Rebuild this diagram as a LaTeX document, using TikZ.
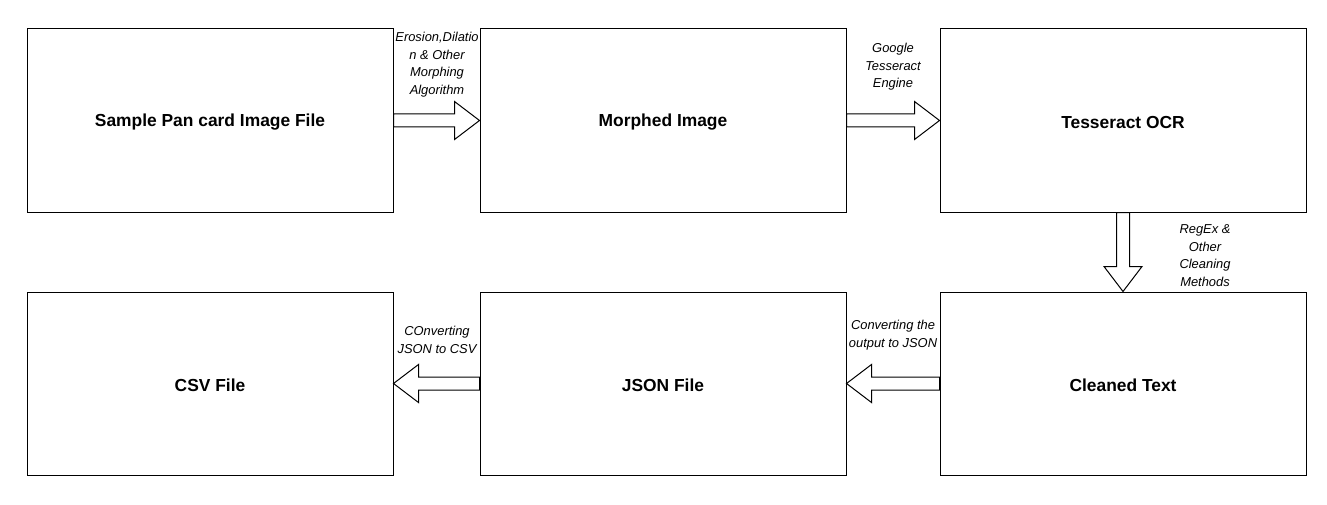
\documentclass[tikz,border=0pt]{standalone}
\usepackage{fontspec}
\setmainfont{Liberation Sans}
\usetikzlibrary{calc}
\begin{document}
\begin{tikzpicture}[x=1pt,y=-1pt,
  box/.style={draw=black,line width=1pt,minimum width=366pt,minimum height=183pt,inner sep=0pt,font=\fontsize{17.4}{20}\selectfont\bfseries},
  txt/.style={inner sep=0pt,font=\fontsize{17.4}{20}\selectfont\bfseries},
  lbl/.style={align=center,inner sep=0pt,font=\fontsize{12.9}{17.5}\selectfont\itshape},
  arr/.style={draw=black,line width=1pt,fill=white,line join=miter}]
\useasboundingbox (0,0) rectangle (1327,505);
\node[box] (img) at (210,120.5) {};
\node[box] (mor) at (663,120.5) {};
\node[box] (ocr) at (1123,120.5) {};
\node[box] (cln) at (1123,383.5) {};
\node[box] (json) at (663,383.5) {};
\node[box] (csv) at (210,383.5) {};
\node[txt] (timg) at ($(img.center)+(0,2)$) {Sample Pan card Image File};
\node[txt] (tmor) at ($(mor.center)+(0,2)$) {Morphed Image};
\node[txt] (tocr) at ($(ocr.center)+(0,2)$) {Tesseract OCR};
\node[txt] (tcln) at ($(cln.center)+(0,2)$) {Cleaned Text};
\node[txt] (tjson) at ($(json.center)+(0,2)$) {JSON File};
\node[txt] (tcsv) at ($(csv.center)+(0,2)$) {CSV File};
% right arrows
\draw[arr] ($(img.east)+(0,-6.5)$) -- ($(mor.west)+(-25,-6.5)$) -- ($(mor.west)+(-25,-19)$) -- (mor.west) -- ($(mor.west)+(-25,19)$) -- ($(mor.west)+(-25,6.5)$) -- ($(img.east)+(0,6.5)$) -- cycle;
\draw[arr] ($(mor.east)+(0,-6.5)$) -- ($(ocr.west)+(-25,-6.5)$) -- ($(ocr.west)+(-25,-19)$) -- (ocr.west) -- ($(ocr.west)+(-25,19)$) -- ($(ocr.west)+(-25,6.5)$) -- ($(mor.east)+(0,6.5)$) -- cycle;
% down arrow
\draw[arr] ($(ocr.south)+(-6.5,0)$) -- ($(cln.north)+(-6.5,-25)$) -- ($(cln.north)+(-19,-25)$) -- (cln.north) -- ($(cln.north)+(19,-25)$) -- ($(cln.north)+(6.5,-25)$) -- ($(ocr.south)+(6.5,0)$) -- cycle;
% left arrows
\draw[arr] ($(cln.west)+(0,-6.5)$) -- ($(json.east)+(25,-6.5)$) -- ($(json.east)+(25,-19)$) -- (json.east) -- ($(json.east)+(25,19)$) -- ($(json.east)+(25,6.5)$) -- ($(cln.west)+(0,6.5)$) -- cycle;
\draw[arr] ($(json.west)+(0,-6.5)$) -- ($(csv.east)+(25,-6.5)$) -- ($(csv.east)+(25,-19)$) -- (csv.east) -- ($(csv.east)+(25,19)$) -- ($(csv.east)+(25,6.5)$) -- ($(json.west)+(0,6.5)$) -- cycle;
% labels
\node[lbl] (l1) at (437,64.5) {Erosion,Dilatio\\n \& Other\\Morphing\\Algorithm};
\node[lbl] (l2) at (893,67) {Google\\Tesseract\\Engine};
\node[lbl] (l3) at (1205,255.5) {RegEx \&\\Other\\Cleaning\\Methods};
\node[lbl] (l4) at (437,340) {COnverting\\JSON to CSV};
\node[lbl] (l5) at (893,335) {Converting the\\output to JSON};
\end{tikzpicture}
\end{document}
